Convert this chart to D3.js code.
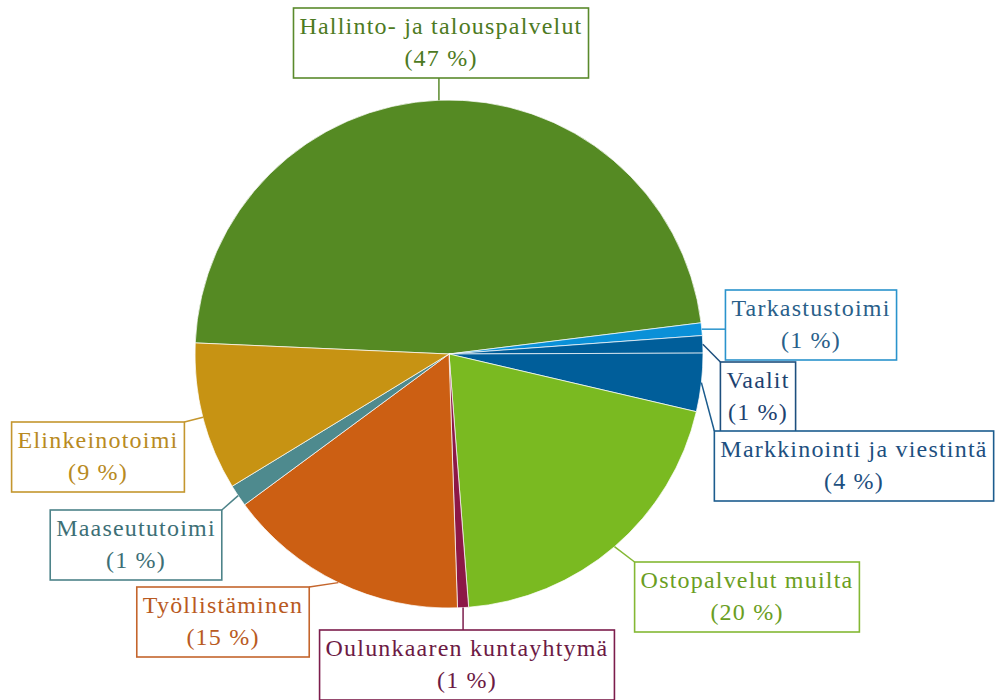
<!DOCTYPE html>
<html>
<head>
<meta charset="utf-8">
<script src="https://cdn.jsdelivr.net/npm/d3@7"></script>
<style>
  body { margin: 0; background: #fff; }
  svg { display: block; }
</style>
</head>
<body>
<div id="chart"></div>
<script>
// data (share of total, %)
const categories = ['Hallinto- ja talouspalvelut', 'Tarkastustoimi', 'Vaalit', 'Markkinointi ja viestintä',
  'Ostopalvelut muilta', 'Oulunkaaren kuntayhtymä', 'Työllistäminen', 'Maaseututoimi', 'Elinkeinotoimi'];
const values = [47.3, 0.8, 1.1, 3.7, 20.1, 0.7, 15.4, 1.4, 9.4];
const percentLabels = ['47 %', '1 %', '1 %', '4 %', '20 %', '1 %', '15 %', '1 %', '9 %'];

const sliceColors = ['#558a23', '#0a90d8', '#005e9a', '#005e9a', '#7aba21', '#8c1846', '#cc5f13', '#4e8a8e', '#c79313'];
const boxColors = ['#5a8a2c', '#2a93cc', '#1d4f7e', '#1c5c8e', '#84b834', '#7c1d4c', '#c4652c', '#4d8389', '#c4962e'];
const textColors = ['#4d7a22', '#2a5f8a', '#1d4270', '#1d4f80', '#6a9e22', '#6c1a44', '#b95a22', '#3d6f76', '#b88a22'];

// label box placement: centre x and top y
const boxPos = [[441, 8], [811, 290], [758, 362], [854, 431], [747, 562], [467, 630], [223, 587], [136, 510], [98, 422]];

const width = 995;
const height = 700;
const cx = 449;
const cy = 354;
const radius = 254;
const boxH = 70;
const font = '"Liberation Serif", "DejaVu Serif", serif';

const svg = d3.select('#chart')
  .append('svg')
  .attr('width', width)
  .attr('height', height);

const pie = d3.pie()
  .sort(null)
  .value(d => d)
  .startAngle(-87.5 * Math.PI / 180)
  .endAngle(-87.5 * Math.PI / 180 + 2 * Math.PI);

const arcs = pie(values);
const arc = d3.arc().innerRadius(0).outerRadius(radius);

const g = svg.append('g').attr('transform', `translate(${cx},${cy})`);

g.selectAll('path')
  .data(arcs)
  .join('path')
  .attr('d', arc)
  .attr('fill', (d, i) => sliceColors[i])
  .attr('stroke', '#fff')
  .attr('stroke-width', 1)
  .attr('stroke-opacity', 0.7);

// labels
const labels = svg.append('g').attr('class', 'labels');

arcs.forEach((d, i) => {
  const mid = (d.startAngle + d.endAngle) / 2;
  const ax = cx + radius * Math.sin(mid);
  const ay = cy - radius * Math.cos(mid);

  const lg = labels.append('g');
  const rect = lg.append('rect');
  const t1 = lg.append('text')
    .attr('x', boxPos[i][0])
    .attr('y', boxPos[i][1] + 26)
    .attr('text-anchor', 'middle')
    .attr('font-family', font)
    .attr('font-size', 24)
    .attr('letter-spacing', 1.2)
    .attr('fill', textColors[i])
    .text(categories[i]);
  lg.append('text')
    .attr('x', boxPos[i][0])
    .attr('y', boxPos[i][1] + 58)
    .attr('text-anchor', 'middle')
    .attr('font-family', font)
    .attr('font-size', 24)
    .attr('letter-spacing', 1.2)
    .attr('fill', textColors[i])
    .text('(' + percentLabels[i] + ')');

  const w = t1.node().getComputedTextLength() + 12;
  const x0 = boxPos[i][0] - w / 2;
  const y0 = boxPos[i][1];
  rect.attr('x', x0).attr('y', y0).attr('width', w).attr('height', boxH)
    .attr('fill', '#fff')
    .attr('stroke', boxColors[i])
    .attr('stroke-width', 1.6);

  // leader from slice edge to nearest point of the box
  const ex = Math.max(x0, Math.min(x0 + w, ax));
  const ey = Math.max(y0, Math.min(y0 + boxH, ay));
  svg.insert('line', '.labels')
    .attr('x1', ax).attr('y1', ay)
    .attr('x2', ex).attr('y2', ey)
    .attr('stroke', boxColors[i])
    .attr('stroke-width', 1.5);
});
</script>
</body>
</html>
